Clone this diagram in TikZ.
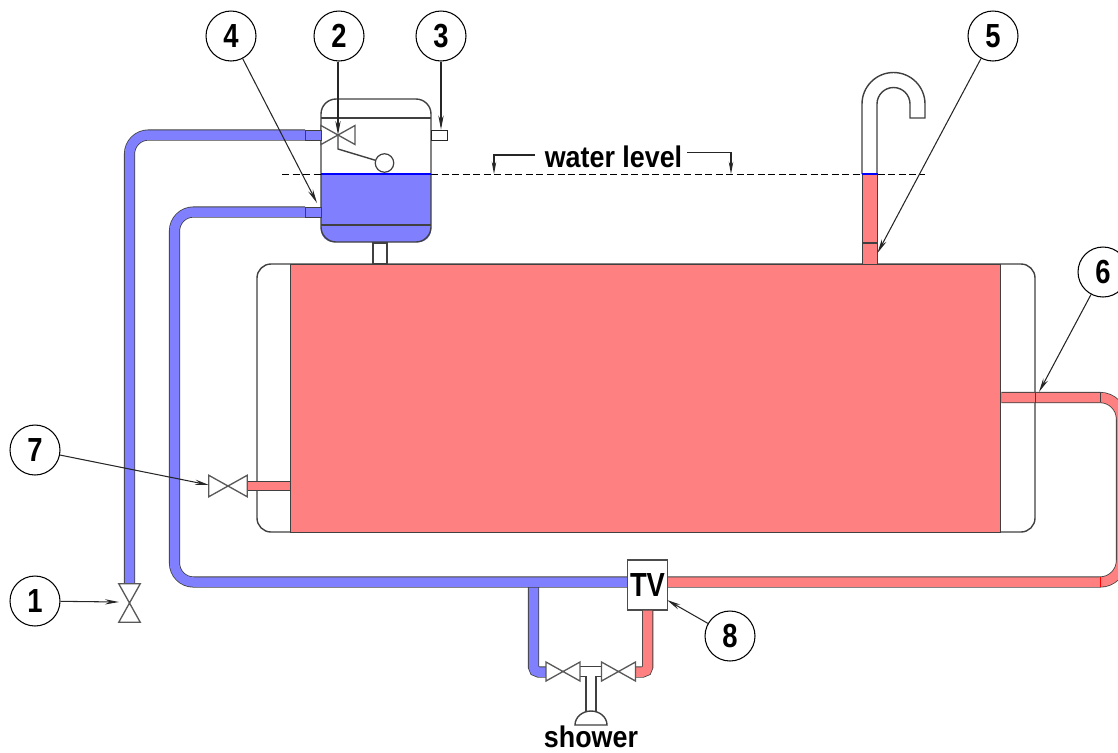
\documentclass[tikz,border=0pt]{standalone}
\usepackage{fontspec}
\setmainfont{Liberation Sans}
\newfontfamily\narrowfont[FakeStretch=0.82]{Liberation Sans}
\newfontfamily\labelfont[FakeStretch=0.9]{Liberation Sans}
\usetikzlibrary{arrows.meta}
\definecolor{wblue}{HTML}{8080FF}
\definecolor{wred}{HTML}{FF8080}
\definecolor{wline}{HTML}{0000FF}
\definecolor{wedge}{HTML}{404040}

\tikzset{
  valve/.pic={
    \draw[valveline] (0,0) -- (-17,-9.5) -- (-17,9.5) -- cycle;
    \draw[valveline] (0,0) -- (17,-9.5) -- (17,9.5) -- cycle;
  }
}

\begin{document}
\begin{tikzpicture}[
    x=0.02cm, y=-0.02cm,
    line width=0.5pt,
    callout/.style={draw, circle, minimum size=1cm, inner sep=0pt, fill=white, line width=0.6pt, font=\narrowfont\bfseries\fontsize{19}{19}\selectfont},
    label/.style={font=\labelfont\bfseries\fontsize{17}{17}\selectfont, inner sep=0pt},
    leader/.style={-{Stealth[length=8pt,width=3pt]}, draw=black!85, line width=0.6pt},
    levelmark/.style={-{Stealth[length=7pt,width=2.6pt]}, draw=black!85, line width=0.6pt},
    levelline/.style={dashed, dash pattern=on 4pt off 2pt, line width=0.45pt},
    pipe/.style={draw=wedge, double distance=0.19cm, line width=0.45pt, rounded corners=0.38cm},
    hotpipe/.style={pipe, double=wred},
    coldpipe/.style={pipe, double=wblue},
    shell/.style={draw=wedge, line width=0.8pt},
    valveline/.style={draw=black!65, fill=white, line width=0.75pt},
    segment/.style={draw=wedge, line width=0.55pt}
  ]
    \clip (0,0) rectangle (1118,752);

    % main tank
    \draw[shell, rounded corners=0.28cm] (257,264) rectangle (1035,532);
    \node[draw=wedge, fill=wred, line width=0.55pt, minimum width=14.22cm, minimum height=5.36cm, inner sep=0pt] (tank) at (645.5,398) {};

    % cistern
    \fill[wblue] (321,174) [rounded corners=0.24cm] -- (321,242) -- (431,242) [sharp corners] -- (431,174) -- cycle;
    \draw[shell, rounded corners=0.3cm] (321,99) rectangle (431,242);
    \draw[shell] (321,118) -- (431,118);
    \draw[segment, line width=0.7pt] (321,225) -- (431,225);
    \draw[wline, line width=0.7pt] (321,174) -- (431,174);
    \draw[shell] (373,243) rectangle (387,264);

    % float and arm
    \node[draw=wedge, fill=white, circle, minimum size=0.37cm, inner sep=0pt, line width=0.7pt] (float) at (384.5,163) {};
    \coordinate (armtop) at (338,135);
    \coordinate (armknee) at (338,149);
    \draw[shell] (armtop) -- (armknee) -- (float);
    \pic at (armtop) {valve};

    % overflow
    \fill[wred] (862,174) rectangle (877.5,264);
    \draw[shell] (862,174) -- (862,104) arc[start angle=180, end angle=0, x radius=31.5, y radius=-31.5] -- (925,118) -- (910,118) -- (910,104) arc[start angle=0, end angle=180, x radius=16.5, y radius=-16.5] -- (877,174);
    \draw[segment] (862,174) -- (862,264) -- (877.5,264) -- (877.5,174);
    \draw[segment, line width=0.7pt] (862,243) -- (877.5,243);

    % water level
    \draw[levelline] (282,174) -- (321,174);
    \draw[levelline] (431,174) -- (862,174);
    \draw[levelline] (877.5,174) -- (925,174);
    \draw[wline, line width=0.7pt] (862,174) -- (877.5,174);
    \node[label] (level) at (613.5,157) {water level};
    \coordinate (levelL) at (494,174);
    \coordinate (levelR) at (731,174);
    \coordinate (levelLs) at (535,155);
    \coordinate (levelRs) at (687,152.5);
    \draw[levelmark] (levelLs) -- (494,155) -- (levelL);
    \draw[levelmark] (levelRs) -- (731,152.5) -- (levelR);

    % shower branches
    \node[draw=black!70, fill=white, minimum width=0.8cm, minimum height=1cm, inner sep=0pt, line width=0.8pt, font=\narrowfont\bfseries\fontsize{19}{19}\selectfont] (tv) at (647.5,585) {TV};
    \draw[coldpipe, rounded corners=0.1cm] (533.5,587) -- (533.5,672) -- (546,672);
    \draw[hotpipe, rounded corners=0.1cm] (tv.south -| 647.7,0) -- (647.7,672) -- (636,672);
    \draw[shell, fill=white] (580,666.5) -- (602,666.5) -- (602,676.5) -- (596,676.5) -- (596,712) -- (586,712) -- (586,676.5) -- (580,676.5);
    \pic at (563,671.5) {valve};
    \pic at (618.5,671.5) {valve};
    \draw[shell, fill=white] (575,725) arc[start angle=180, end angle=0, x radius=16, y radius=-14] -- cycle;
    \node[label] (shower) at (591,737) {shower};

    % cold supply
    \coordinate (inletA) at (305,135);
    \coordinate (inletB) at (305,212);
    \draw[coldpipe] (129.5,585) -- (129.5,135) -- (inletA);
    \draw[coldpipe] (inletB) -- (174.5,212) -- (174.5,582) -- (tv.west |- 0,582);
    \draw[segment, fill=wblue] (305,130) rectangle (321,140.5);
    \draw[segment, fill=wblue] (305,207) rectangle (321,217);
    \pic[rotate=90, scale=1.13] at (129.5,603) {valve};

    % hot loop
    \draw[hotpipe, rounded corners=0.43cm] (tank.east |- 0,397.5) -- (1121.5,397.5) -- (1121.5,582) -- (tv.east |- 0,582);
    \draw[segment] (1035,392.5) -- (1035,402.5);
    \draw[segment] (1100,393) -- (1100,402);
    \draw[red, line width=0.5pt] (1100,577) -- (1100,587);

    % drain
    \draw[segment, fill=wred] (247,481) rectangle (290,490.5);
    \pic[scale=1.13] at (228,486) {valve};

    % callouts
    \node[callout] (n4) at (231,36) {4};
    \node[callout] (n2) at (339,36) {2};
    \node[callout] (n3) at (441,36) {3};
    \node[callout] (n5) at (993,36) {5};
    \node[callout] (n6) at (1103,272) {6};
    \node[callout] (n7) at (35,450) {7};
    \node[callout] (n1) at (35,601) {1};
    \node[callout] (n8) at (730,636) {8};

    % sensor on cistern
    \node[draw=black!85, fill=white, minimum width=0.32cm, minimum height=0.2cm, inner sep=0pt, line width=0.5pt] (probe) at (439,135) {};

    \coordinate (t1) at (119,602);
    \coordinate (t2) at (338,135);
    \coordinate (t4) at (317,203);
    \coordinate (t5) at (877.5,253);
    \coordinate (t6) at (1039,392);
    \coordinate (t7) at (209,485);
    \coordinate (t8) at (667,600);
    \draw[leader] (n1) -- (t1);
    \draw[leader] (n2.south -| t2) -- (t2);
    \draw[leader] (n3) -- (probe.north -| n3);
    \draw[leader] (n4) -- (t4);
    \draw[leader] (n5) -- (t5);
    \draw[leader] (n6) -- (t6);
    \draw[leader] (n7) -- (t7);
    \draw[leader] (n8) -- (t8);
  \end{tikzpicture}
\end{document}
